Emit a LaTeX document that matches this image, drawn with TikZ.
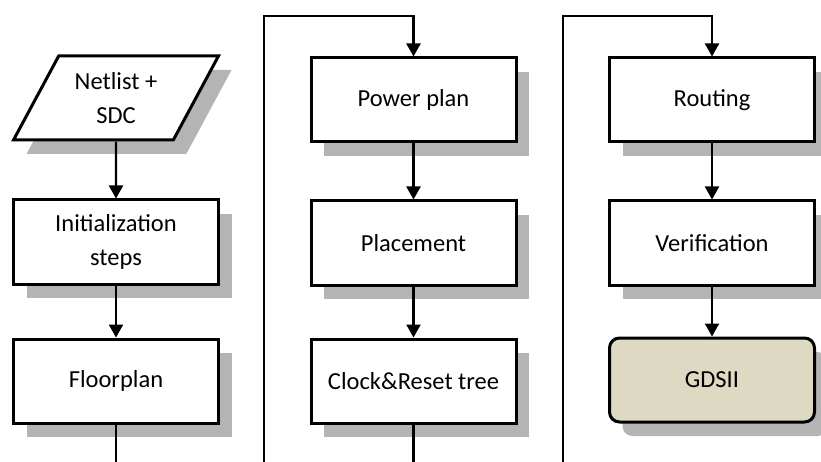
\documentclass[tikz,border=0pt]{standalone}
\usepackage{fontspec}
\setmainfont{Carlito}
\usetikzlibrary{arrows.meta,shapes.geometric,shadows}
\definecolor{shadowgray}{RGB}{180,180,180}
\definecolor{gdsfill}{RGB}{221,217,195}

\begin{document}
\begin{tikzpicture}[x=1pt, y=-1pt,
    boxshadow/.style={drop shadow={shadow xshift=13pt, shadow yshift=-14pt, fill=shadowgray, opacity=1}},
    stepbox/.style={draw, line width=3pt, fill=white, minimum width=205pt, minimum height=84pt,
        align=center, font=\fontsize{24.5}{34}\selectfont, boxshadow},
    iobox/.style={stepbox, shape=trapezium, trapezium left angle=52, trapezium right angle=128,
        trapezium stretches body, minimum width=205pt},
    flow/.style={line width=2.3pt, -{Triangle[length=13pt, width=14pt]}},
    link/.style={line width=2.3pt}]
    \useasboundingbox (0,0) rectangle (821,462);

    \node[iobox] (netlist) at (116,98) {Netlist +\\SDC};
    \node[stepbox] (init) at (116,242) {Initialization\\steps};
    \node[stepbox] (floorplan) at (116,381) {Floorplan};

    \node[stepbox] (power) at (413.5,100) {Power plan};
    \node[stepbox] (placement) at (413.5,243) {Placement};
    \node[stepbox] (clock) at (413.5,381) {Clock\&Reset tree};

    \node[stepbox] (routing) at (712,100) {Routing};
    \node[stepbox] (verification) at (712,243) {Verification};
    \node[stepbox, rounded corners=10pt, fill=gdsfill] (gdsii) at (712,380) {GDSII};

    \coordinate (out1) at (116,462);
    \coordinate (in2) at (264,462);
    \coordinate (top2) at (264,16);
    \coordinate (out2) at (413.5,462);
    \coordinate (in3) at (563,462);
    \coordinate (top3) at (563,16);

    \draw[flow] (netlist.south) -- (init.north);
    \draw[flow] (init.south) -- (floorplan.north);
    \draw[link] (floorplan.south) -- (out1);

    \draw[flow] (in2) -- (top2) -| (power.north);
    \draw[flow] (power.south) -- (placement.north);
    \draw[flow] (placement.south) -- (clock.north);
    \draw[link] (clock.south) -- (out2);

    \draw[flow] (in3) -- (top3) -| (routing.north);
    \draw[flow] (routing.south) -- (verification.north);
    \draw[flow] (verification.south) -- (gdsii.north);

\end{tikzpicture}
\end{document}
